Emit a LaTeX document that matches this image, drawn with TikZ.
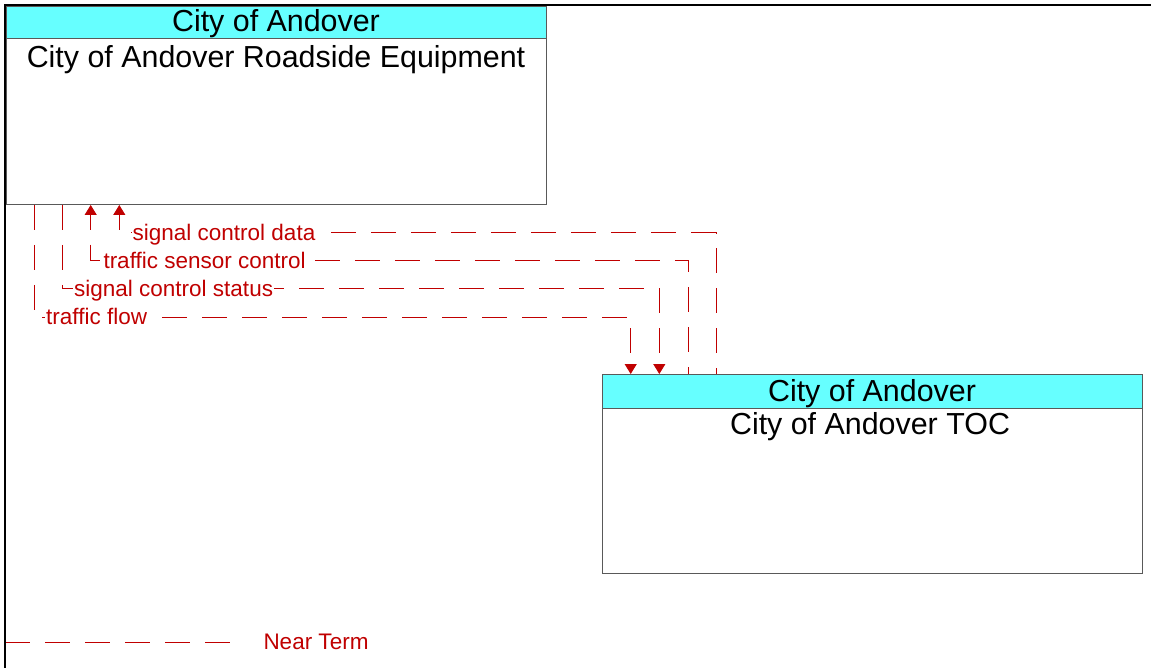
\documentclass[tikz,border=0pt]{standalone}
\usepackage{fontspec}
\setmainfont{Liberation Sans}
\usetikzlibrary{arrows.meta,calc}
\definecolor{flowred}{RGB}{192,0,0}
\definecolor{hdrcyan}{RGB}{102,255,255}
\definecolor{boxgray}{RGB}{89,89,89}
\begin{document}
\begin{tikzpicture}[x=1pt,y=-1pt,
  hdr/.style={draw=boxgray, fill=hdrcyan, line width=1pt, anchor=north west, inner sep=0pt},
  bodybox/.style={draw=boxgray, fill=white, line width=1pt, anchor=north west, inner sep=0pt},
  boxtext/.style={font=\fontsize{30.4}{35}\selectfont, anchor=base, inner sep=0pt},
  flow/.style={draw=flowred, line width=1pt, dash pattern=on 25pt off 15pt},
  tipend/.style={-{Triangle[length=10pt,width=12pt,fill=flowred]}},
  tipstart/.style={{Triangle[length=10pt,width=12pt,fill=flowred]}-, dash phase=10pt},
  lbl/.style={font=\fontsize{22.5}{26}\selectfont, text=flowred, fill=white, anchor=base west, inner xsep=1pt, inner ysep=1pt}]
\useasboundingbox (0,0) rectangle (1151,668);
\fill[white] (0,0) rectangle (1151,668);
% Roadside equipment box
\node[bodybox, minimum width=540pt, minimum height=198pt] (rse) at (6,6) {};
\node[hdr, minimum width=540pt, minimum height=32pt] (rseh) at (6,6) {};
\node[boxtext] (rset) at (276,31.3) {City of Andover};
\node[boxtext] (rseb) at (276,67.7) {City of Andover Roadside Equipment};
% TOC box
\node[bodybox, minimum width=540pt, minimum height=199pt] (toc) at (602,374) {};
\node[hdr, minimum width=540pt, minimum height=34pt] (toch) at (602,374) {};
\node[boxtext] (toct) at (872,401.5) {City of Andover};
\node[boxtext] (tocb) at (870,434.7) {City of Andover TOC};
% flows (dash pattern counted from the roadside equipment end)
\draw[flow,tipstart] ($(rse.south west)+(113.3,0)$) |- ($(toc.north west)+(114,-141.3)$) -- ($(toc.north west)+(114,0)$);
\draw[flow,tipstart] ($(rse.south west)+(84.7,0)$) |- ($(toc.north west)+(86,-113.3)$) -- ($(toc.north west)+(86,0)$);
\draw[flow,tipend] ($(rse.south west)+(56.7,0)$) |- ($(toc.north west)+(57.3,-85.3)$) -- ($(toc.north west)+(57.3,0)$);
\draw[flow,tipend] ($(rse.south west)+(28,0)$) |- ($(toc.north west)+(28.7,-57)$) -- ($(toc.north west)+(28.7,0)$);
\node[lbl] (l1) at (131.5,240.5) {signal control data};
\node[lbl] (l2) at (102.3,268.4) {traffic sensor control};
\node[lbl] (l3) at (73,296.4) {signal control status};
\node[lbl] (l4) at (45,324.7) {traffic flow};
% legend
\coordinate (lg1) at (5,642.3);
\coordinate (lg2) at (230,642.3);
\draw[flow] (lg1) -- (lg2);
\node[lbl, fill=none] (lgt) at (262.3,649.4) {Near Term};
% frame
\draw[line width=2pt] (5,668) -- (5,5) -- (1151,5);
\end{tikzpicture}
\end{document}
